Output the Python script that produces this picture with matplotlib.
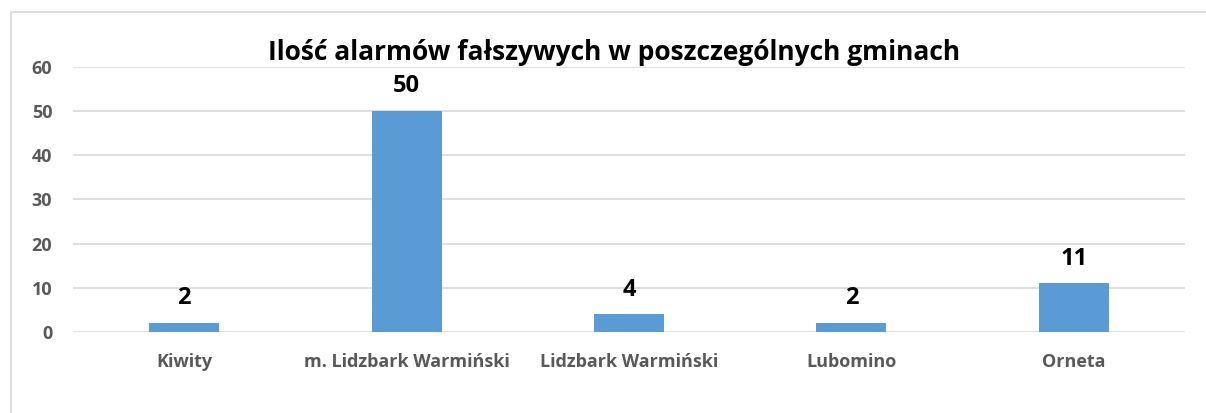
import matplotlib.pyplot as plt
from matplotlib.patches import Rectangle

gminy = ['Kiwity', 'm. Lidzbark Warmiński', 'Lidzbark Warmiński', 'Lubomino', 'Orneta']
alarmy = [2, 50, 4, 2, 11]

plt.rcParams['font.family'] = ['Open Sans', 'DejaVu Sans']

fig = plt.figure(figsize=(12.06, 4.13), dpi=100)
# outer chart frame (cut off at right and bottom like the source)
fig.patches.append(Rectangle((11 / 1206, -0.1), 1.2, 1 - 12 / 413 + 0.1,
                             transform=fig.transFigure, fill=False,
                             edgecolor='#d9d9d9', linewidth=1.2))

ax = fig.add_axes([73 / 1206, 1 - 332 / 413, (1185 - 73) / 1206, (332 - 67) / 413])
x = range(len(gminy))
bars = ax.bar(x, alarmy, width=0.315, color='#5b9bd5', zorder=3)
ax.set_xlim(-0.5, len(gminy) - 0.5)
ax.set_ylim(0, 60)
ax.set_yticks(range(0, 61, 10))
ax.set_xticks(list(x))
ax.set_xticklabels(gminy)
ax.grid(axis='y', color='#d9d9d9', linewidth=1.2, zorder=0)
for s in ax.spines.values():
    s.set_visible(False)
ax.tick_params(length=0, colors='#595959')
ax.tick_params(axis='x', pad=15, labelsize=13)
ax.tick_params(axis='y', pad=15, labelsize=13)
for lbl in ax.get_xticklabels() + ax.get_yticklabels():
    lbl.set_fontweight('bold')

for b, v in zip(bars, alarmy):
    ax.annotate(str(v), (b.get_x() + b.get_width() / 2, v), xytext=(0, 13.5),
                textcoords='offset points', ha='center', va='baseline',
                fontsize=17, fontweight='bold', color='black')

fig.text(614 / 1206, 1 - 52 / 413, 'Ilość alarmów fałszywych w poszczególnych gminach',
         ha='center', va='center', fontsize=19, fontweight='bold', color='black')

fig.savefig('out.png', dpi=100, facecolor='white')
